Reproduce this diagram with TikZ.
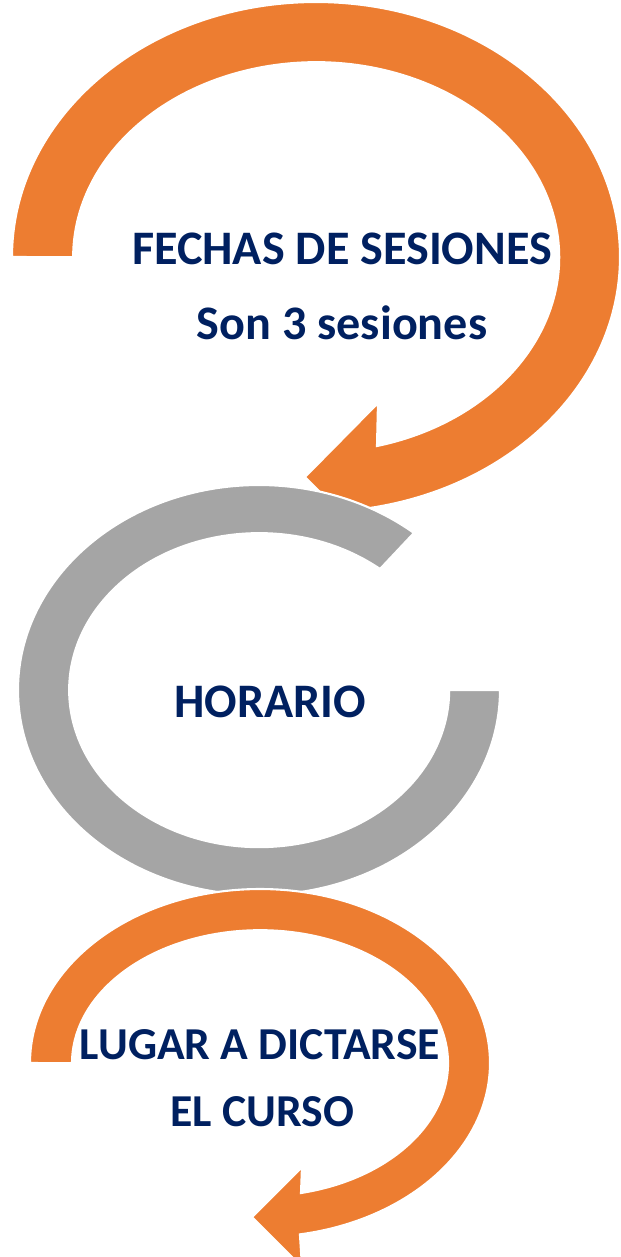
\documentclass[tikz,border=0pt]{standalone}
\usepackage{fontspec}
\setmainfont{Carlito}
\usepackage{xcolor}
\usetikzlibrary{positioning}

\definecolor{accorange}{HTML}{ED7D31}
\definecolor{accgray}{HTML}{A5A5A5}
\definecolor{navy}{HTML}{002060}

\begin{document}
\begin{tikzpicture}[x=0.02cm,y=0.02cm]
      \tikzstyle{ring} = [draw=white, line width=1.2pt, line join=miter]
      \tikzstyle{ringorange} = [ring, fill=accorange]
      \tikzstyle{ringgray} = [ring, fill=accgray]
      \tikzstyle{lbl} = [inner sep=0pt, text=navy,
                         font=\fontsize{27.4}{31}\selectfont\bfseries]
      \tikzstyle{lblsmall} = [lbl, font=\fontsize{26}{30}\selectfont\bfseries]

      \useasboundingbox (0,0) rectangle (620,-1257);

      % first arrow, over the top
      \draw[ringorange] (12,-257)
            arc[start angle=180, end angle=-80, x radius=304, y radius=255]
            -- (378,-551) -- (305,-477) -- (378,-403)
            -- (377,-446)
            arc[start angle=-75.5, end angle=180, x radius=243, y radius=195]
            -- cycle;

      % middle ring
      \draw[ringgray] (500,-690)
            arc[start angle=0, end angle=-310, x radius=241, y radius=205]
            -- (380,-569)
            arc[start angle=-309.5, end angle=0, x radius=190, y radius=157]
            -- cycle;

      % last arrow
      \draw[ringorange] (30,-1063)
            arc[start angle=180, end angle=-80, x radius=230, y radius=174]
            -- (302,-1267) -- (252,-1217) -- (302,-1167)
            -- (301,-1193)
            arc[start angle=-77.4, end angle=180, x radius=188, y radius=133]
            -- cycle;

      \node[lbl] (fechas) at (342,-249) {FECHAS DE SESIONES};
      \node[lbl] (son) at (342,-323) {Son 3 sesiones};
      \node[lbl] (horario) at (270,-702) {HORARIO};
      \node[lblsmall] (lugar) at (260,-1045) {LUGAR A DICTARSE};
      \node[lblsmall] (curso) at (262,-1112) {EL CURSO};
\end{tikzpicture}
\end{document}
